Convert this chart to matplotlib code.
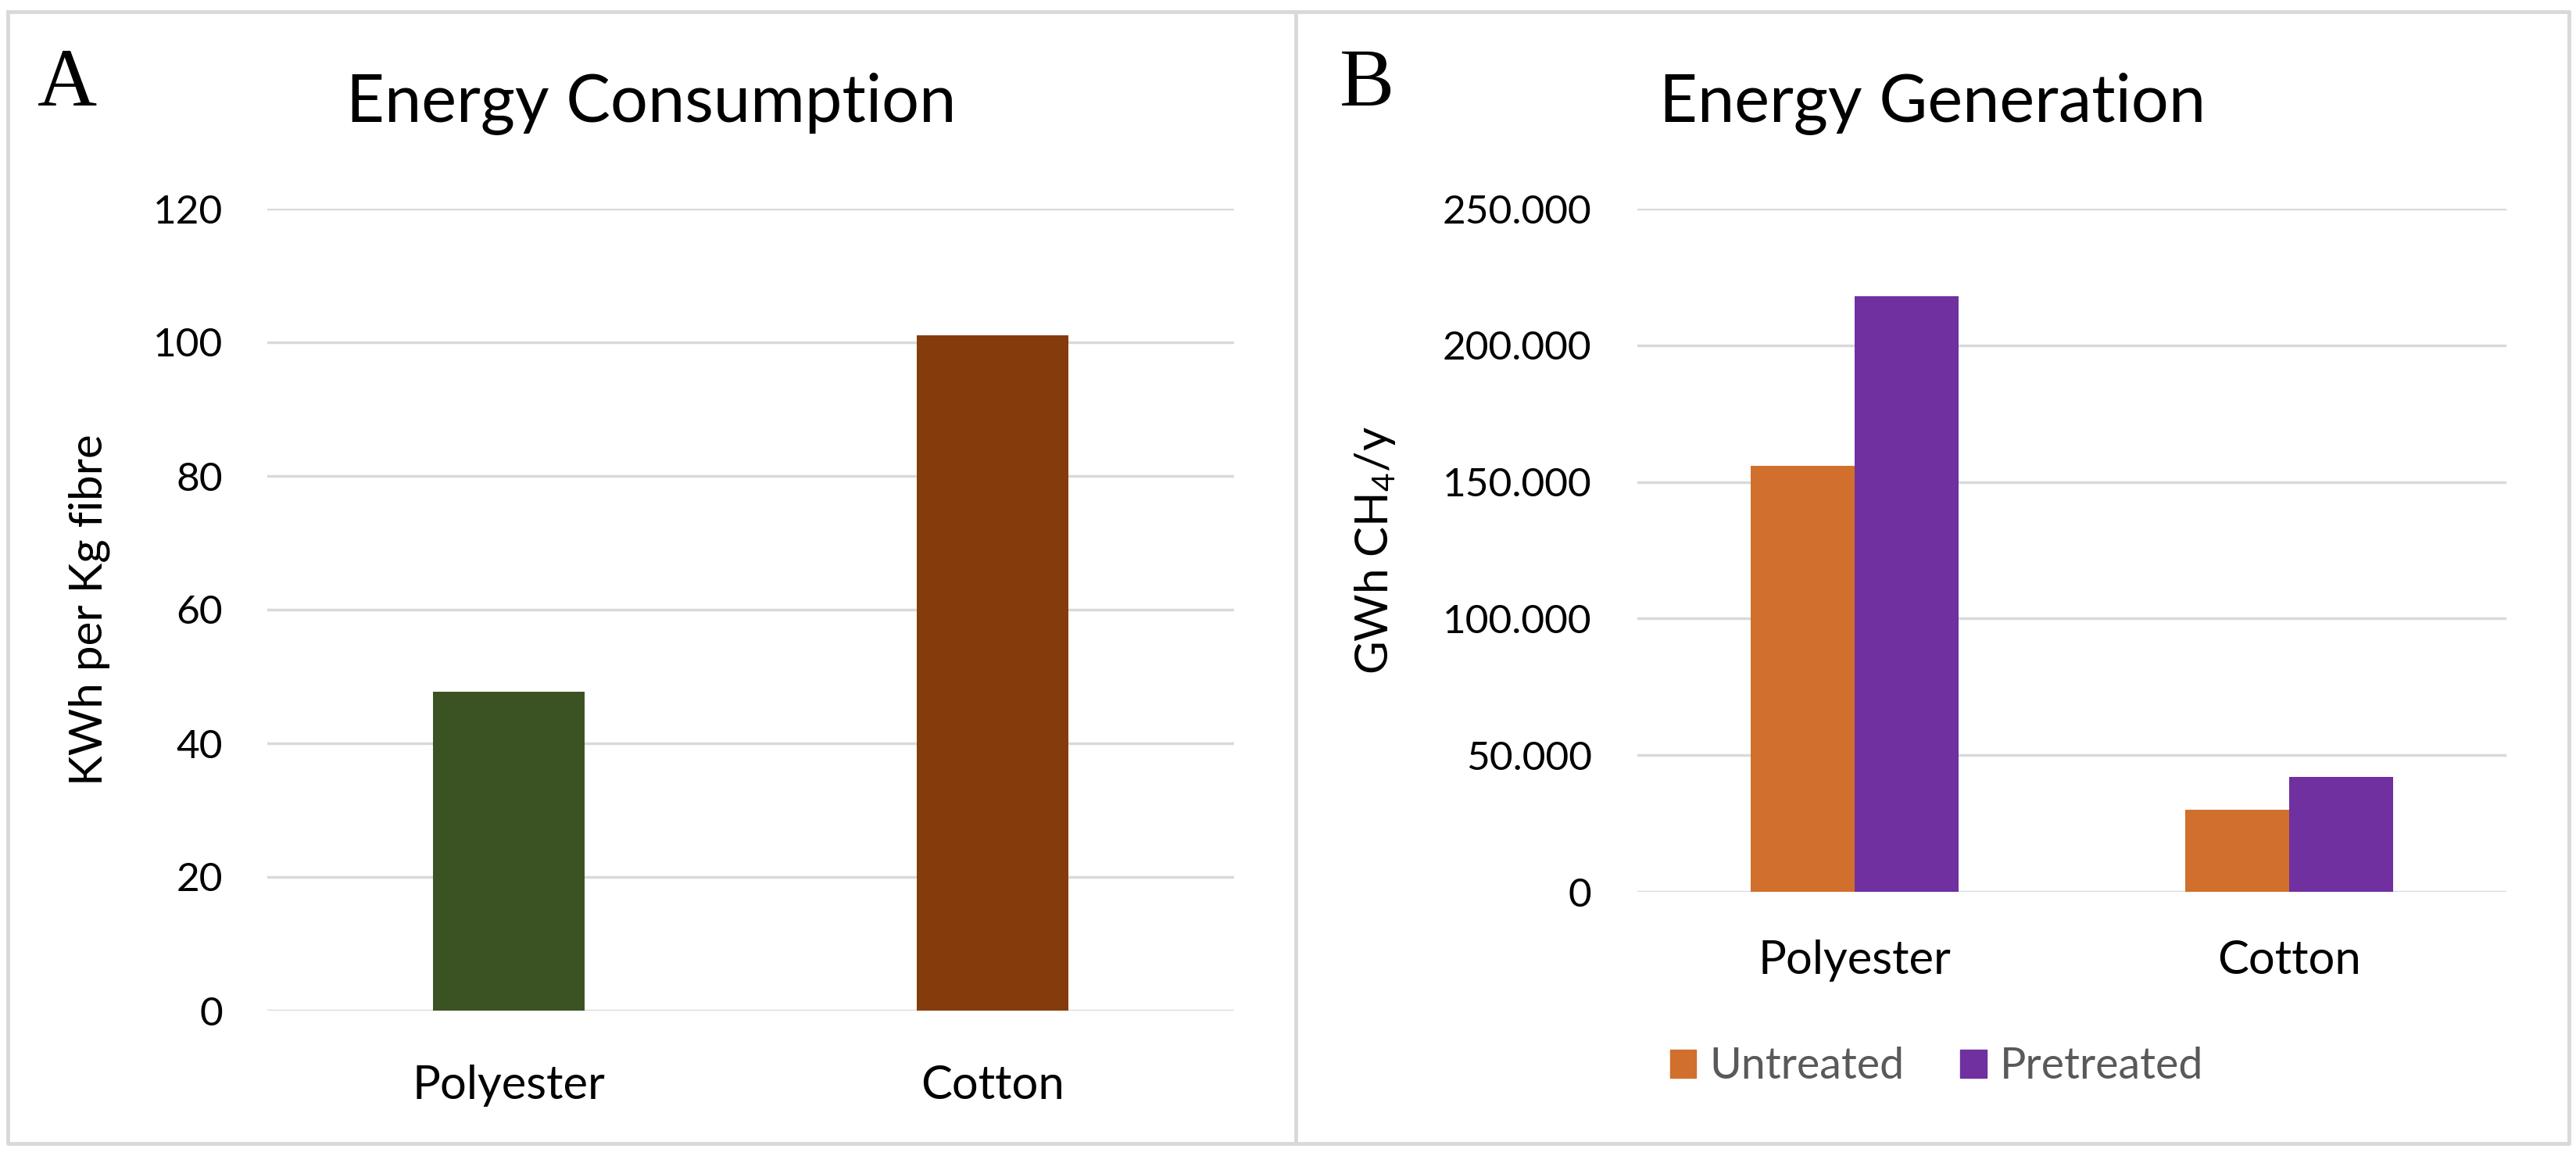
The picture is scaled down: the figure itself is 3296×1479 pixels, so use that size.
import matplotlib.pyplot as plt
from matplotlib.lines import Line2D
from matplotlib.patches import Patch

# Dados
fibres = ['Polyester', 'Cotton']
consumption = [47.7, 101]
consumption_colors = ['#3B5323', '#843C0C']

untreated = [156000, 30000]
pretreated = [218000, 42000]
series_names = ['Untreated', 'Pretreated']
series_colors = ['#D0702C', '#7030A0']

left_ticks = [0, 20, 40, 60, 80, 100, 120]
right_ticks = [0, 50000, 100000, 150000, 200000, 250000]
right_tick_labels = ['0', '50.000', '100.000', '150.000', '200.000', '250.000']

plt.rcParams['font.family'] = ['Lato', 'DejaVu Sans']
plt.rcParams['mathtext.fontset'] = 'custom'
plt.rcParams['mathtext.rm'] = 'Lato'
plt.rcParams['mathtext.it'] = 'Lato:italic'

W, H = 3296, 1479
fig = plt.figure(figsize=(W / 100, H / 100), dpi=100)
grid_color = '#D9D9D9'


def fx(px):
    return px / W


def fy(py):
    return 1 - py / H


def style_axes(ax):
    for s in ax.spines.values():
        s.set_visible(False)
    ax.tick_params(length=0)
    ax.yaxis.grid(True, color=grid_color, linewidth=2.5)
    ax.set_axisbelow(True)


# Painel A
ax1 = fig.add_axes([fx(342), fy(1293), fx(1579 - 342), (1293 - 267) / H])
ax1.bar(range(len(fibres)), consumption, width=0.314, color=consumption_colors)
ax1.set_xlim(-0.5, 1.5)
ax1.set_ylim(0, 120)
ax1.set_yticks(left_ticks)
ax1.set_xticks(range(len(fibres)))
ax1.set_xticklabels(fibres, fontsize=43)
ax1.tick_params(axis='y', labelsize=37, pad=41)
ax1.tick_params(axis='x', pad=50)
ax1.set_ylabel('KWh per Kg fibre', fontsize=42)
ax1.yaxis.set_label_coords((141 - 342) / (1579 - 342), 0.5)
style_axes(ax1)

# Painel B
ax2 = fig.add_axes([fx(2095), fy(1141), fx(3207 - 2095), (1141 - 267) / H])
x = range(len(fibres))
w = 0.24
ax2.bar([i - w / 2 for i in x], untreated, width=w, color=series_colors[0], label=series_names[0])
ax2.bar([i + w / 2 for i in x], pretreated, width=w, color=series_colors[1], label=series_names[1])
ax2.set_xlim(-0.5, 1.5)
ax2.set_ylim(0, 250000)
ax2.set_yticks(right_ticks)
ax2.set_yticklabels(right_tick_labels)
ax2.set_xticks(list(x))
ax2.set_xticklabels(fibres, fontsize=43)
ax2.tick_params(axis='y', labelsize=37, pad=42)
ax2.tick_params(axis='x', pad=44)
ax2.set_ylabel('GWh CH$_4$/y', fontsize=42)
ax2.yaxis.set_label_coords((1788 - 2095) / (3207 - 2095), 0.5)
style_axes(ax2)

handles = [Patch(color=c) for c in series_colors]
leg = fig.legend(handles, series_names, loc='center', bbox_to_anchor=(fx(2478), fy(1365)),
                 ncol=2, frameon=False, fontsize=40, handlelength=0.6, handleheight=0.6,
                 handletextpad=0.3, columnspacing=1.3)
for t in leg.get_texts():
    t.set_color('#595959')

# Titulos e letras
fig.text(fx(833), fy(155), 'Energy Consumption', fontsize=61, ha='center', va='baseline')
fig.text(fx(2473), fy(155), 'Energy Generation', fontsize=61, ha='center', va='baseline')
fig.text(fx(48), fy(135), 'A', fontsize=76, family='Liberation Serif', va='baseline')
fig.text(fx(1714), fy(135), 'B', fontsize=76, family='Liberation Serif', va='baseline')

# Moldura
border = dict(color=grid_color, linewidth=3.5, transform=fig.transFigure)
fig.add_artist(Line2D([fx(10), fx(3287), fx(3287), fx(10), fx(10)],
                      [fy(15), fy(15), fy(1463), fy(1463), fy(15)], **border))
fig.add_artist(Line2D([fx(1658), fx(1658)], [fy(15), fy(1463)], **border))

plt.savefig('out.png', dpi=100)
plt.close()
